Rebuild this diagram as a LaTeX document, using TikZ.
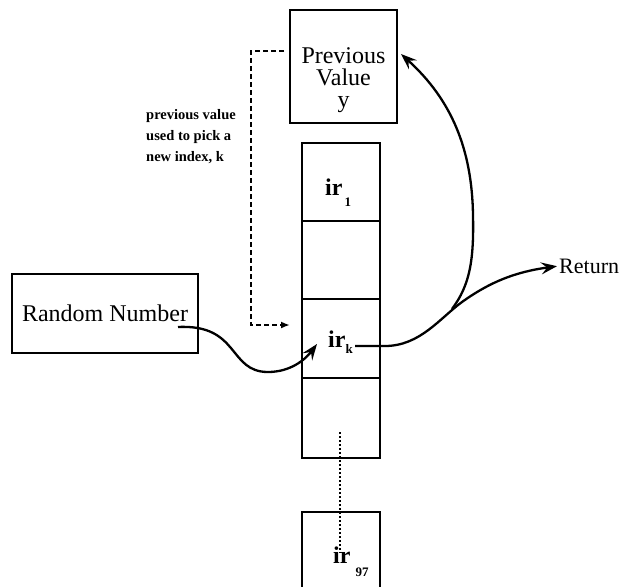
\documentclass[tikz,border=0pt]{standalone}
\usepackage{fontspec}
\setmainfont{Liberation Serif}
\usetikzlibrary{arrows.meta,calc}
\newcommand\irsub[3]{\textbf{ir}\hspace{#3}\raisebox{-#2}{\fontsize{13}{13}\selectfont\bfseries #1}}
\begin{document}
\begin{tikzpicture}[x=1pt,y=-1pt,
  box/.style={draw,line width=2pt,inner sep=0pt},
  cellbox/.style={box,minimum width=78pt},
  bigtext/.style={font=\fontsize{24}{22}\selectfont},
  irtext/.style={font=\fontsize{24}{24}\selectfont,anchor=base west,inner sep=0pt},
  curvearrow/.style={line width=2.3pt,-{Stealth[length=16pt,width=12pt,inset=6pt]}},
  dasharrow/.style={line width=2pt,dash pattern=on 5pt off 3pt,-{Latex[length=9pt,width=7pt]}},
  dotline/.style={line width=2.4pt,dash pattern=on 2pt off 2pt}]
\path[use as bounding box] (0,0) rectangle (625,587);
\clip (0,0) rectangle (625,587);

% boxes
\node[box,minimum width=107pt,minimum height=113pt] (prev) at (343.5,66.5) {};
\node[bigtext,align=center,inner sep=0pt] (prevtext) at (343.5,80) {Previous\\Value\\y};
\node[box,minimum width=186pt,minimum height=79pt,bigtext] (rand) at (105,313.5) {Random Number};

\node[cellbox,minimum height=78pt] (c1) at (341,182) {};
\node[cellbox,minimum height=78pt] (c2) at (341,260) {};
\node[cellbox,minimum height=79pt] (c3) at (341,338.5) {};
\node[cellbox,minimum height=80pt] (c4) at (341,418) {};
\node[cellbox,minimum height=80pt] (c97) at (341,552) {};

% cell labels
\node[irtext] (ir1) at (325,195) {\irsub{1}{11pt}{2pt}};
\node[irtext] (irk) at (328,347) {\irsub{k}{6pt}{0pt}};
\node[irtext] (ir97) at (333,563) {\irsub{97}{13pt}{5pt}};

% other texts
\node[font=\fontsize{22}{22}\selectfont,anchor=base west,inner sep=0pt] (ret) at (559,273) {Return};
\node[font=\fontsize{14.5}{21}\selectfont\bfseries,align=left,anchor=north west,inner sep=0pt] (note) at (146,109) {previous value\\used to pick a\\new index, k};

% connectors
\coordinate (dtop) at (284,51);
\coordinate (dcorner) at (251,51);
\coordinate (dbottom) at (251,325);
\draw[dasharrow,shorten >=11pt] (dtop) -- (dcorner) -- (dbottom) -- (c3.west |- dbottom);

\coordinate (rstart) at (178,327);
\coordinate (kin) at (317,344);
\draw[curvearrow] (rstart) .. controls (240,324) and (228,372) .. (268,372)
  .. controls (290,372) and (305,360) .. (kin);

\coordinate (kout) at (355,346);
\draw[curvearrow,shorten >=2pt] (kout) -- (385,346) .. controls (420,346) and (440,318) .. (462,302)
  .. controls (490,282) and (515,272) .. (ret.west);

\coordinate (jn) at (452,309);
\coordinate (ptip) at (401,54);
\draw[curvearrow] (jn) .. controls (470,285) and (474,260) .. (473,215)
  .. controls (472,150) and (452,100) .. (ptip);

\coordinate (dotstart) at (340,432);
\coordinate (dotend) at (340,553);
\draw[dotline] (dotstart) -- (dotend);
\end{tikzpicture}
\end{document}
